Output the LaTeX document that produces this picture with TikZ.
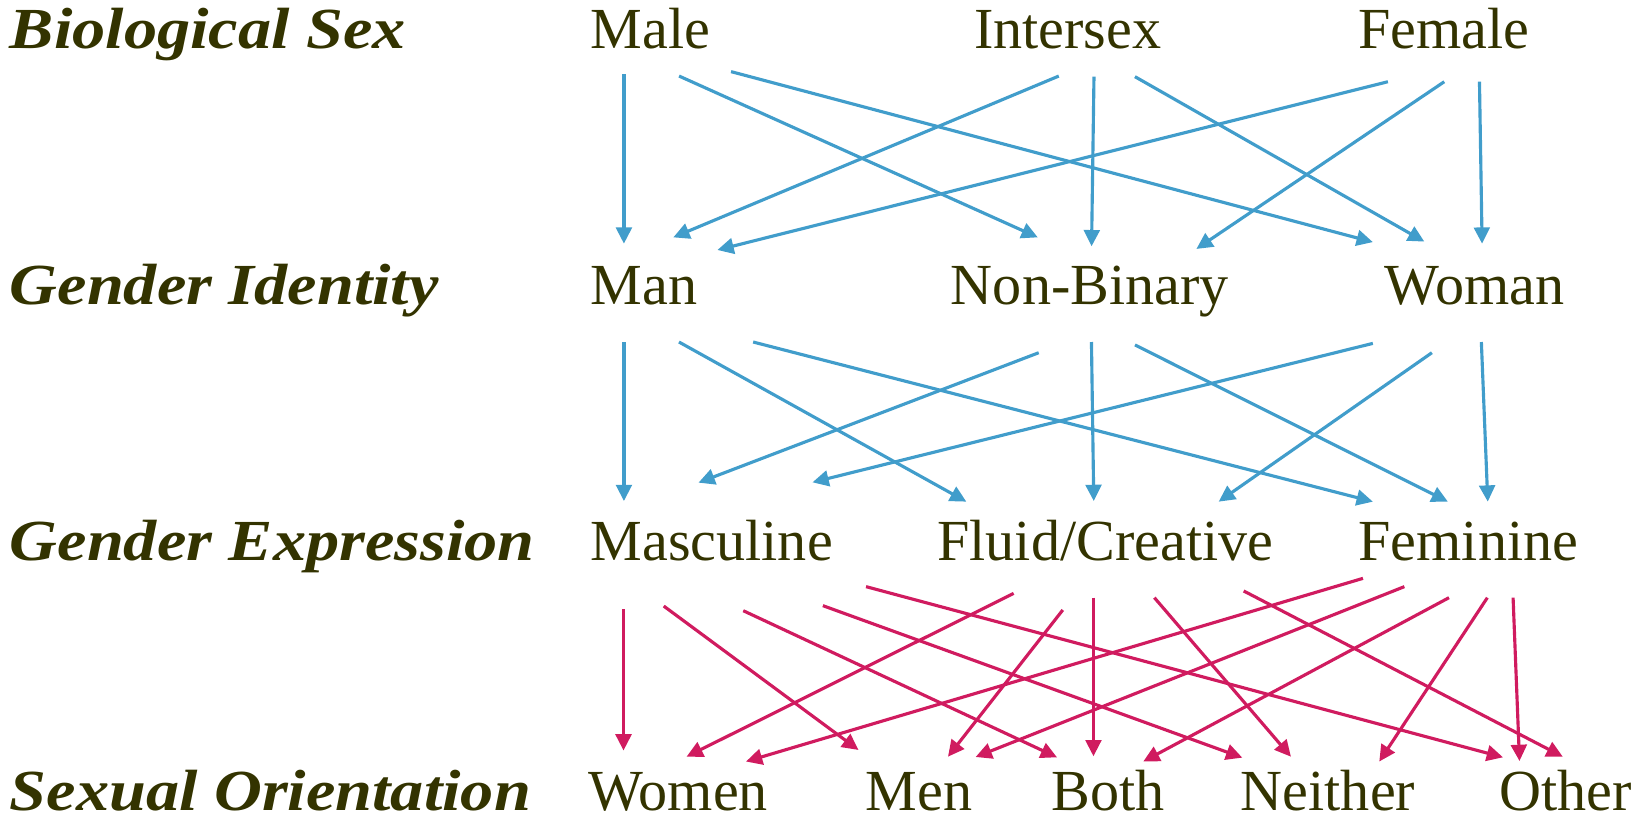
\documentclass[tikz,border=0pt]{standalone}
\usepackage{fontspec}
\setmainfont{Liberation Serif}
\newfontfamily\headfont[FakeStretch=1.14]{Liberation Serif}
\usetikzlibrary{arrows.meta}
\definecolor{textolive}{RGB}{51,51,0}
\definecolor{arrowblue}{RGB}{65,157,203}
\definecolor{arrowpink}{RGB}{208,27,95}

\begin{document}
\begin{tikzpicture}[
        x=0.02cm, y=-0.02cm,
        word/.style={anchor=base west, inner sep=0pt, text=textolive, font=\fontsize{31.5}{36}\selectfont},
        heading/.style={word, font=\headfont\bfseries\itshape\fontsize{31.5}{36}\selectfont},
        blue arrow/.style={draw=arrowblue, line width=1.7pt, -{Triangle[length=0.31cm, width=0.3cm]}},
        pink arrow/.style={blue arrow, draw=arrowpink},
    ]
    \useasboundingbox (0,0) rectangle (1568,784);

    \node[heading] (biosex) at (9,46) {Biological Sex};
    \node[heading] (gid) at (9,290) {Gender Identity};
    \node[heading] (gexp) at (9,534) {Gender Expression};
    \node[heading] (sexor) at (9,772) {Sexual Orientation};

    \node[word] (male) at (562,46) {Male};
    \node[word] (intersex) at (927,46) {Intersex};
    \node[word] (female) at (1293,46) {Female};

    \node[word] (man) at (562,290) {Man};
    \node[word] (nonbin) at (905,290) {Non-Binary};
    \node[word] (woman) at (1318,290) {Woman};

    \node[word] (masc) at (562,534) {Masculine};
    \node[word] (fluid) at (892,534) {Fluid/Creative};
    \node[word] (fem) at (1293,534) {Feminine};

    \node[word] (women) at (560,772) {Women};
    \node[word] (men) at (824,772) {Men};
    \node[word] (both) at (1001,772) {Both};
    \node[word] (neither) at (1181,772) {Neither};
    \node[word] (other) at (1427,772) {Other};

    \foreach \f/\t/\xa/\ya/\xb/\yb in {
        male/man/594/70.5/594/232,
        male/nonbin/646.5/72.4/988/226,
        male/woman/696/68.2/1307/230.5,
        intersex/man/1008/72.4/641/226,
        intersex/nonbin/1041.5/73/1039.2/234.5,
        intersex/woman/1080.5/73/1356/230,
        female/man/1321.3/77.8/683/238,
        female/nonbin/1375/77.8/1139/237,
        female/woman/1408.5/77.8/1411/232,
        man/masc/594/325.6/594/477,
        man/fluid/646.4/325.6/920/477.6,
        man/fem/717/325.6/1307/477.6,
        nonbin/masc/988.9/335.8/665/459.5,
        nonbin/fluid/1039.1/325.6/1041.3/477,
        nonbin/fem/1080.5/328.4/1378.4/477.6,
        woman/masc/1307/326.9/773.5/459.2,
        woman/fluid/1363.2/335.8/1160.2/477.6,
        woman/fem/1410.3/325.6/1416.4/477.6}
    {
        \coordinate (\f-\t-a) at (\xa,\ya);
        \coordinate (\f-\t-b) at (\xb,\yb);
        \draw[blue arrow] (\f-\t-a) -- (\f-\t-b);
    }

    \foreach \f/\t/\xa/\ya/\xb/\yb in {
        masc/women/593.6/580/593.6/714.5,
        masc/men/631.9/577/817.3/714,
        masc/both/707.6/581.4/1006.3/721,
        masc/neither/783.4/576.6/1182.7/721.3,
        masc/other/824.5/558.5/1430.9/721,
        fluid/women/965/564.9/653.6/720.4,
        fluid/men/1011.8/580.7/902.5/720.4,
        fluid/both/1041/569/1041/720,
        fluid/neither/1099/569/1229/720.4,
        fluid/other/1184/562.6/1487.8/720.4,
        fem/women/1297.6/550.6/710.2/725,
        fem/men/1337/558.5/928.8/720.7,
        fem/both/1379.5/569/1088.4/725,
        fem/neither/1416/569/1313.1/725,
        fem/other/1440.5/569/1446.6/724.5}
    {
        \coordinate (\f-\t-a) at (\xa,\ya);
        \coordinate (\f-\t-b) at (\xb,\yb);
        \draw[pink arrow] (\f-\t-a) -- (\f-\t-b);
    }
\end{tikzpicture}
\end{document}
